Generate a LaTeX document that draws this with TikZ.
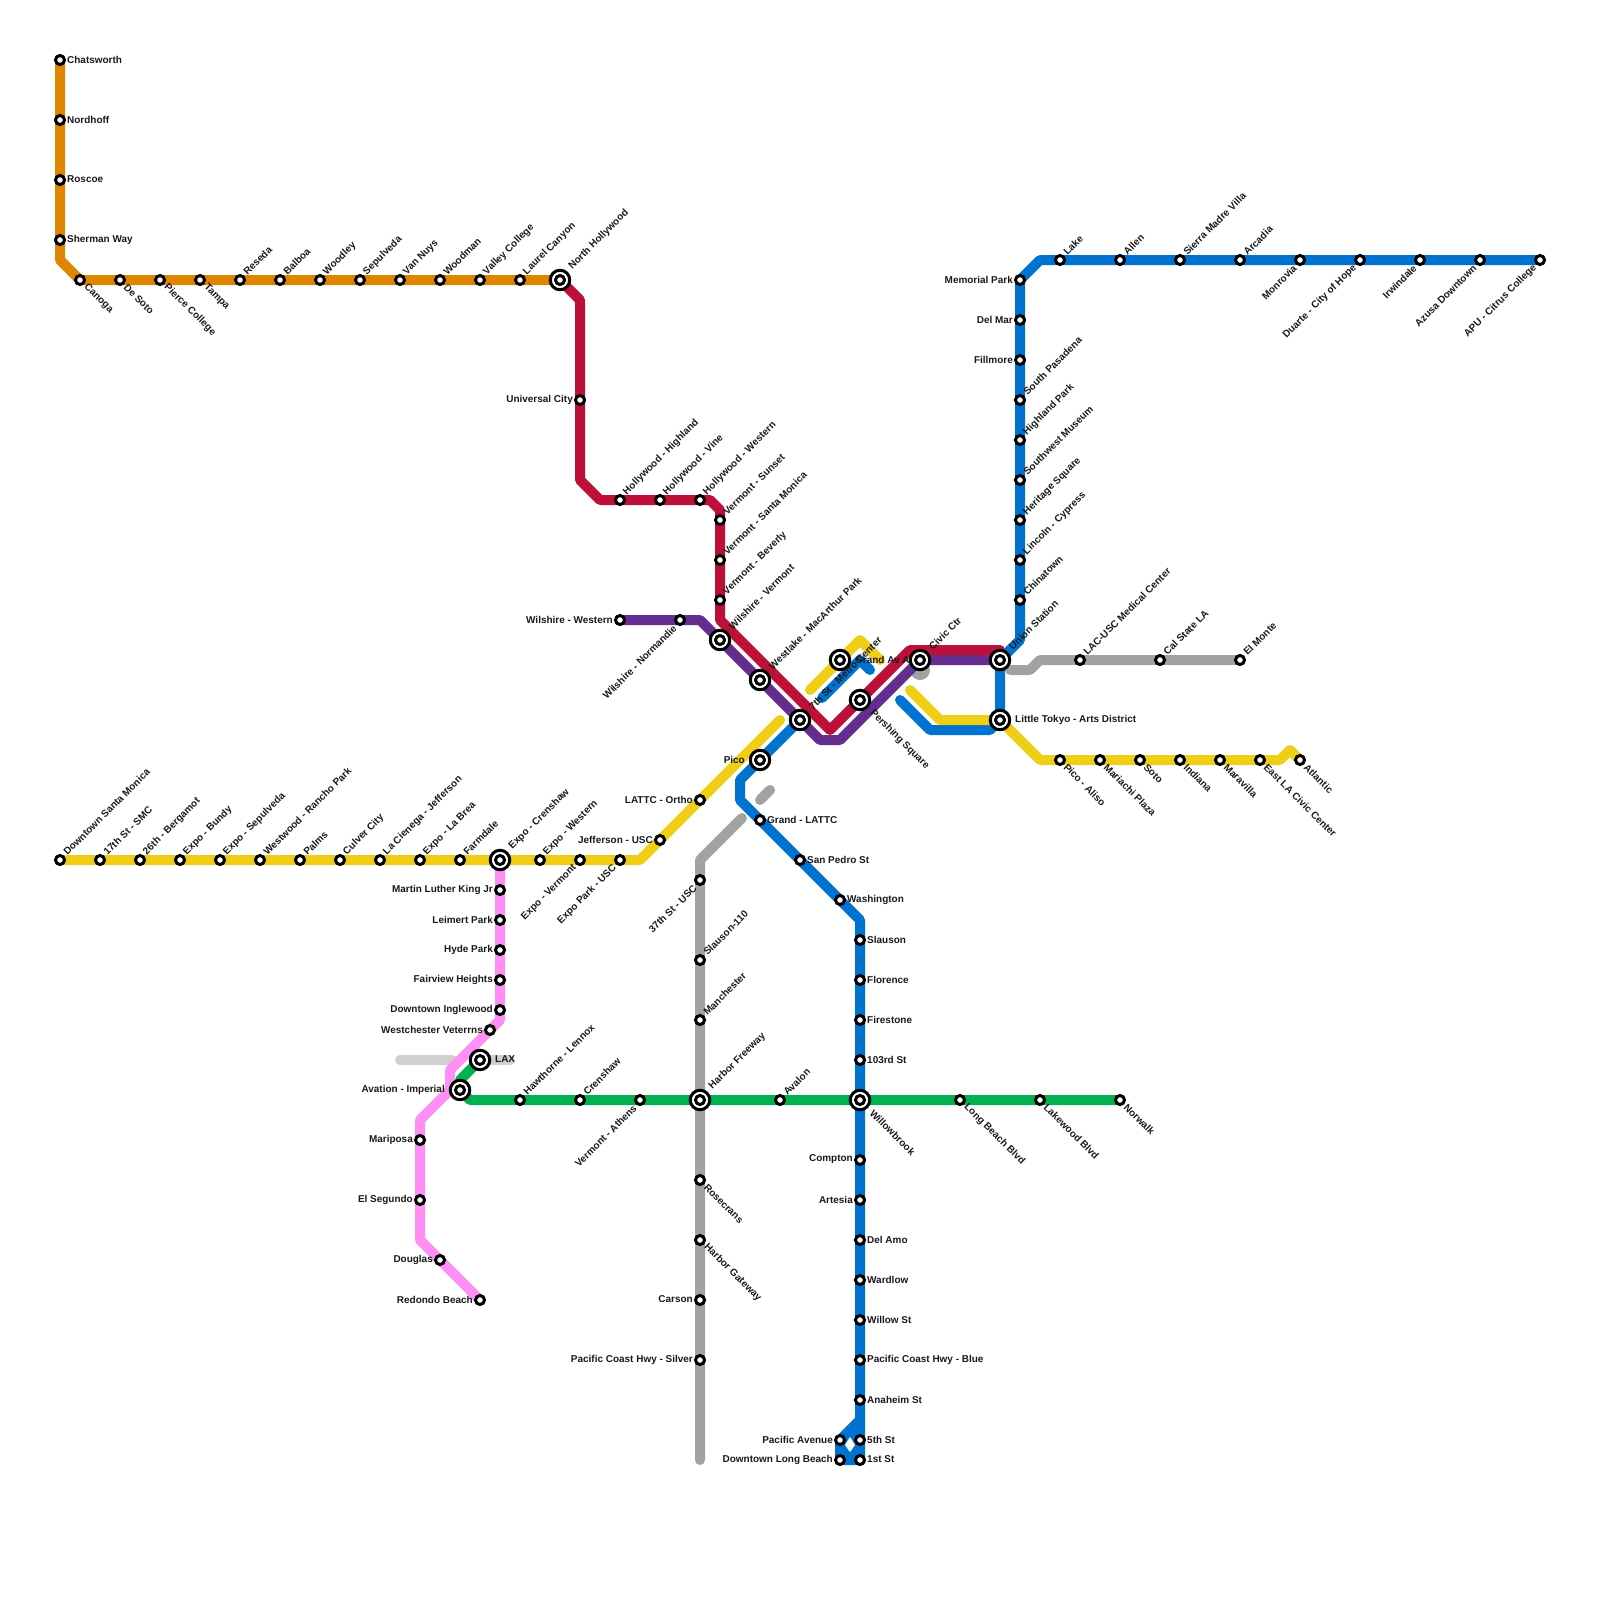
\documentclass[tikz,border=0pt]{standalone}
\usepackage{fontspec}
\setmainfont{Liberation Sans}
\pgfdeclarelayer{bg}
\pgfdeclarelayer{lbl}
\pgfsetlayers{bg,lbl,main}
\definecolor{cOrange}{HTML}{DF8600}
\definecolor{cRed}{HTML}{BD1038}
\definecolor{cYellow}{HTML}{F0CE15}
\definecolor{cBlue}{HTML}{0073D1}
\definecolor{cPurple}{HTML}{662D91}
\definecolor{cGrey}{HTML}{A2A2A2}
\definecolor{cLight}{HTML}{D0D0D0}
\definecolor{cGreen}{HTML}{00B14F}
\definecolor{cPink}{HTML}{FF8FF5}
\tikzset{
  x=1bp,y=-1bp,
  metro/.style={line width=10bp,line cap=round,line join=round},
  stn/.style={circle,draw=black,fill=white,line width=3bp,inner sep=0pt,minimum size=9bp},
  xchg/.style={circle,draw=black,fill=white,line width=3bp,inner sep=0pt,minimum size=19.5bp},
  txt/.style={font=\fontsize{10}{12}\selectfont\bfseries,inner sep=0pt,text=black!90},
  sE/.style={txt,xshift=7bp,yshift=0.5bp,anchor=west},
  sW/.style={txt,xshift=-7bp,yshift=0.5bp,anchor=east},
  sNE/.style={txt,xshift=5bp,yshift=6.5bp,rotate=45,anchor=west},
  sSE/.style={txt,xshift=5.5bp,yshift=-5.5bp,rotate=-45,anchor=west},
  sSW/.style={txt,xshift=-5bp,yshift=-6.5bp,rotate=45,anchor=east},
  iE/.style={txt,xshift=15bp,yshift=0.5bp,anchor=west},
  iW/.style={txt,xshift=-15bp,yshift=0.5bp,anchor=east},
  iNE/.style={txt,xshift=10.5bp,yshift=12bp,rotate=45,anchor=west},
  iSE/.style={txt,xshift=11.5bp,yshift=-11.5bp,rotate=-45,anchor=west},
}
\newcommand{\st}[5]{%
  \node[stn] (#1) at (#2,#3) {};
  \begin{pgfonlayer}{lbl}\node[s#5] (#1-t) at (#1) {#4};\end{pgfonlayer}}
\newcommand{\ix}[5]{%
  \node[xchg] (#1) at (#2,#3) {};
  \node[stn] (#1-c) at (#1) {};
  \begin{pgfonlayer}{lbl}\node[i#5] (#1-t) at (#1) {#4};\end{pgfonlayer}}
\newcommand{\bend}[3]{\coordinate (#1) at (#2,#3);}
\begin{document}
\begin{tikzpicture}
\useasboundingbox (0,0) rectangle (1600,1600);
% Orange
\st{chats}{60}{60}{Chatsworth}{E}
\st{nordh}{60}{120}{Nordhoff}{E}
\st{roscoe}{60}{180}{Roscoe}{E}
\st{sherman}{60}{240}{Sherman Way}{E}
\st{canoga}{80}{280}{Canoga}{SE}
\st{desoto}{120}{280}{De Soto}{SE}
\st{pierce}{160}{280}{Pierce College}{SE}
\st{tampa}{200}{280}{Tampa}{SE}
\st{reseda}{240}{280}{Reseda}{NE}
\st{balboa}{280}{280}{Balboa}{NE}
\st{woodley}{320}{280}{Woodley}{NE}
\st{sepul}{360}{280}{Sepulveda}{NE}
\st{vannuys}{400}{280}{Van Nuys}{NE}
\st{woodman}{440}{280}{Woodman}{NE}
\st{valley}{480}{280}{Valley College}{NE}
\st{laurel}{520}{280}{Laurel Canyon}{NE}
\ix{noho}{560}{280}{North Hollywood}{NE}
% Red
\st{univ}{580}{400}{Universal City}{W}
\st{hwhigh}{620}{500}{Hollywood - Highland}{NE}
\st{hwvine}{660}{500}{Hollywood - Vine}{NE}
\st{hwwest}{700}{500}{Hollywood - Western}{NE}
\st{vsun}{720}{520}{Vermont - Sunset}{NE}
\st{vsm}{720}{560}{Vermont - Santa Monica}{NE}
\st{vbev}{720}{600}{Vermont - Beverly}{NE}
\ix{wilv}{720}{640}{Wilshire - Vermont}{NE}
% Purple
\st{wilw}{620}{620}{Wilshire - Western}{W}
\st{wiln}{680}{620}{Wilshire - Normandie}{SW}
\ix{westlake}{760}{680}{Westlake - MacArthur Park}{NE}
\ix{seventh}{800}{720}{7th St - Metro Center}{NE}
\ix{grandav}{840}{660}{Grand Av A}{E}
\ix{pershing}{860}{700}{Pershing Square}{SE}
\ix{civic}{920}{660}{Civic Ctr}{NE}
\ix{union}{1000}{660}{Union Station}{NE}
\ix{tokyo}{1000}{720}{Little Tokyo - Arts District}{E}
% Yellow west
\st{dtsm}{60}{860}{Downtown Santa Monica}{NE}
\st{smc}{100}{860}{17th St - SMC}{NE}
\st{berg}{140}{860}{26th - Bergamot}{NE}
\st{bundy}{180}{860}{Expo - Bundy}{NE}
\st{exsep}{220}{860}{Expo - Sepulveda}{NE}
\st{rancho}{260}{860}{Westwood - Rancho Park}{NE}
\st{palms}{300}{860}{Palms}{NE}
\st{culver}{340}{860}{Culver City}{NE}
\st{cienega}{380}{860}{La Cienega - Jefferson}{NE}
\st{labrea}{420}{860}{Expo - La Brea}{NE}
\st{farm}{460}{860}{Farmdale}{NE}
\ix{excren}{500}{860}{Expo - Crenshaw}{NE}
\st{exwest}{540}{860}{Expo - Western}{NE}
\st{exverm}{580}{860}{Expo - Vermont}{SW}
\st{expark}{620}{860}{Expo Park - USC}{SW}
\st{jeff}{660}{840}{Jefferson - USC}{W}
\st{ortho}{700}{800}{LATTC - Ortho}{W}
\ix{pico}{760}{760}{Pico}{W}
% Yellow east
\st{aliso}{1060}{760}{Pico - Aliso}{SE}
\st{mariachi}{1100}{760}{Mariachi Plaza}{SE}
\st{soto}{1140}{760}{Soto}{SE}
\st{indiana}{1180}{760}{Indiana}{SE}
\st{marav}{1220}{760}{Maravilla}{SE}
\st{eastla}{1260}{760}{East LA Civic Center}{SE}
\st{atlantic}{1300}{760}{Atlantic}{SE}
% Pink
\st{mlk}{500}{890}{Martin Luther King Jr}{W}
\st{leimert}{500}{920}{Leimert Park}{W}
\st{hyde}{500}{950}{Hyde Park}{W}
\st{fairview}{500}{980}{Fairview Heights}{W}
\st{ingle}{500}{1010}{Downtown Inglewood}{W}
\st{westch}{490}{1030}{Westchester Veterrns}{W}
\ix{lax}{480}{1060}{LAX}{E}
\ix{aviat}{460}{1090}{Avation - Imperial}{W}
\st{mariposa}{420}{1140}{Mariposa}{W}
\st{segundo}{420}{1200}{El Segundo}{W}
\st{douglas}{440}{1260}{Douglas}{W}
\st{redondo}{480}{1300}{Redondo Beach}{W}
% Green
\st{hawth}{520}{1100}{Hawthorne - Lennox}{NE}
\st{crensh}{580}{1100}{Crenshaw}{NE}
\st{athens}{640}{1100}{Vermont - Athens}{SW}
\ix{harbor}{700}{1100}{Harbor Freeway}{NE}
\st{avalon}{780}{1100}{Avalon}{NE}
\ix{willow}{860}{1100}{Willowbrook}{SE}
\st{lbb}{960}{1100}{Long Beach Blvd}{SE}
\st{lakew}{1040}{1100}{Lakewood Blvd}{SE}
\st{norwalk}{1120}{1100}{Norwalk}{SE}
% Silver
\st{usc}{700}{880}{37th St - USC}{SW}
\st{slau}{700}{960}{Slauson-110}{NE}
\st{manch}{700}{1020}{Manchester}{NE}
\st{rosec}{700}{1180}{Rosecrans}{SE}
\st{gatew}{700}{1240}{Harbor Gateway}{SE}
\st{carson}{700}{1300}{Carson}{W}
\st{pchs}{700}{1360}{Pacific Coast Hwy - Silver}{W}
\st{lacusc}{1080}{660}{LAC-USC Medical Center}{NE}
\st{calst}{1160}{660}{Cal State LA}{NE}
\st{elmonte}{1240}{660}{El Monte}{NE}
% Blue south
\st{glattc}{760}{820}{Grand - LATTC}{E}
\st{sanped}{800}{860}{San Pedro St}{E}
\st{wash}{840}{900}{Washington}{E}
\st{slauson}{860}{940}{Slauson}{E}
\st{flor}{860}{980}{Florence}{E}
\st{fire}{860}{1020}{Firestone}{E}
\st{third}{860}{1060}{103rd St}{E}
\st{compton}{860}{1160}{Compton}{W}
\st{artesia}{860}{1200}{Artesia}{W}
\st{delamo}{860}{1240}{Del Amo}{E}
\st{wardlow}{860}{1280}{Wardlow}{E}
\st{willst}{860}{1320}{Willow St}{E}
\st{pchb}{860}{1360}{Pacific Coast Hwy - Blue}{E}
\st{anaheim}{860}{1400}{Anaheim St}{E}
\st{fifth}{860}{1440}{5th St}{E}
\st{first}{860}{1460}{1st St}{E}
\st{pacave}{840}{1440}{Pacific Avenue}{W}
\st{dtlb}{840}{1460}{Downtown Long Beach}{W}
% Blue north
\st{memorial}{1020}{280}{Memorial Park}{W}
\st{delmar}{1020}{320}{Del Mar}{W}
\st{fillmore}{1020}{360}{Fillmore}{W}
\st{spas}{1020}{400}{South Pasadena}{NE}
\st{highl}{1020}{440}{Highland Park}{NE}
\st{swm}{1020}{480}{Southwest Museum}{NE}
\st{herit}{1020}{520}{Heritage Square}{NE}
\st{lincoln}{1020}{560}{Lincoln - Cypress}{NE}
\st{china}{1020}{600}{Chinatown}{NE}
\st{lake}{1060}{260}{Lake}{NE}
\st{allen}{1120}{260}{Allen}{NE}
\st{sierra}{1180}{260}{Sierra Madre Villa}{NE}
\st{arcadia}{1240}{260}{Arcadia}{NE}
\st{monrov}{1300}{260}{Monrovia}{SW}
\st{duarte}{1360}{260}{Duarte - City of Hope}{SW}
\st{irwin}{1420}{260}{Irwindale}{SW}
\st{azusa}{1480}{260}{Azusa Downtown}{SW}
\st{apu}{1540}{260}{APU - Citrus College}{SW}
% Bends
\bend{oA}{60}{260}
\bend{rA}{580}{300}\bend{rB}{580}{480}\bend{rC}{600}{500}\bend{rH}{710}{500}\bend{rI}{720}{510}\bend{rD}{720}{620}\bend{rE}{830}{730}\bend{rF}{910}{650}\bend{rG}{1000}{650}
\bend{pA}{700}{620}\bend{pB}{820}{740}\bend{pC}{840}{740}
\bend{yA}{640}{860}\bend{yB}{780}{720}\bend{yC}{810}{690}\bend{yD}{860}{640}\bend{yE}{880}{660}
\bend{yF}{910}{690}\bend{yG}{940}{720}\bend{yH}{1040}{760}\bend{yI}{1280}{760}\bend{yJ}{1290}{750}
\bend{bA}{1040}{260}\bend{bB}{1020}{640}\bend{bC}{990}{730}\bend{bD}{930}{730}\bend{bE}{900}{700}
\bend{bF}{822}{698}\bend{bG}{860}{660}\bend{bH}{870}{670}
\bend{bI}{740}{780}\bend{bJ}{740}{800}\bend{bK}{860}{920}\bend{bL}{860}{1420}
\bend{gA}{700}{860}\bend{gB}{742}{818}\bend{gC}{700}{1460}\bend{gD}{760}{800}\bend{gE}{770}{790}
\bend{gF}{920}{670}\bend{gG}{1010}{670}\bend{gH}{1030}{670}\bend{gI}{1040}{660}
\bend{lA}{400}{1060}\bend{lB}{452}{1060}\bend{lC}{510}{1060}
\bend{kA}{450}{1070}\bend{kB}{450}{1090}\bend{kC}{420}{1120}\bend{kD}{420}{1240}\bend{kE}{500}{1020}
\bend{nA}{460}{1080}\bend{nB}{470}{1100}
\begin{pgfonlayer}{bg}
% Light grey
\draw[metro,cLight] (lA) -- (lB);
\draw[metro,cLight] (lax.center) -- (lC);
% Silver
\draw[metro,cGrey] (gC) -- (pchs.center) -- (gA) -- (gB);
\draw[metro,cGrey] (gD) -- (gE);
\fill[cGrey] (gF) circle[radius=10bp];
\draw[metro,cGrey] (gG) -- (gH) -- (gI) -- (elmonte.center);
% Green
\draw[metro,cGreen] (lax.center) -- (nA) -- (aviat.center) -- (nB) -- (norwalk.center);
% Pink
\draw[metro,cPink] (excren.center) -- (kE) -- (kA) -- (kB) -- (kC) -- (kD) -- (redondo.center);
% Blue
\draw[metro,cBlue] (apu.center) -- (bA) -- (memorial.center) -- (bB) -- (union.center) -- (tokyo.center) -- (bC) -- (bD) -- (bE);
\draw[metro,cBlue] (bF) -- (bG) -- (bH);
\draw[metro,cBlue] (seventh.center) -- (pico.center) -- (bI) -- (bJ) -- (bK) -- (first.center) -- (dtlb.center) -- (pacave.center) -- (bL);
\fill[cBlue] (bL) -- (pacave.center) -- (dtlb.center) -- (first.center) -- cycle;
\fill[white] (850,1437) -- (855,1445) -- (850,1452) -- (845,1445) -- cycle;
% Yellow
\draw[metro,cYellow] (dtsm.center) -- (yA) -- (yB);
\draw[metro,cYellow] (yC) -- (yD) -- (yE);
\draw[metro,cYellow] (yF) -- (yG) -- (tokyo.center) -- (yH) -- (yI) -- (yJ) -- (atlantic.center);
% Purple
\draw[metro,cPurple] (wilw.center) -- (pA) -- (pB) -- (pC) -- (civic.center) -- (union.center);
% Red
\draw[metro,cRed] (noho.center) -- (rA) -- (rB) -- (rC) -- (rH) -- (rI) -- (rD) -- (rE) -- (rF) -- (rG) -- (union.center);
% Orange
\draw[metro,cOrange] (chats.center) -- (oA) -- (canoga.center) -- (noho.center);
\end{pgfonlayer}
\end{tikzpicture}
\end{document}
